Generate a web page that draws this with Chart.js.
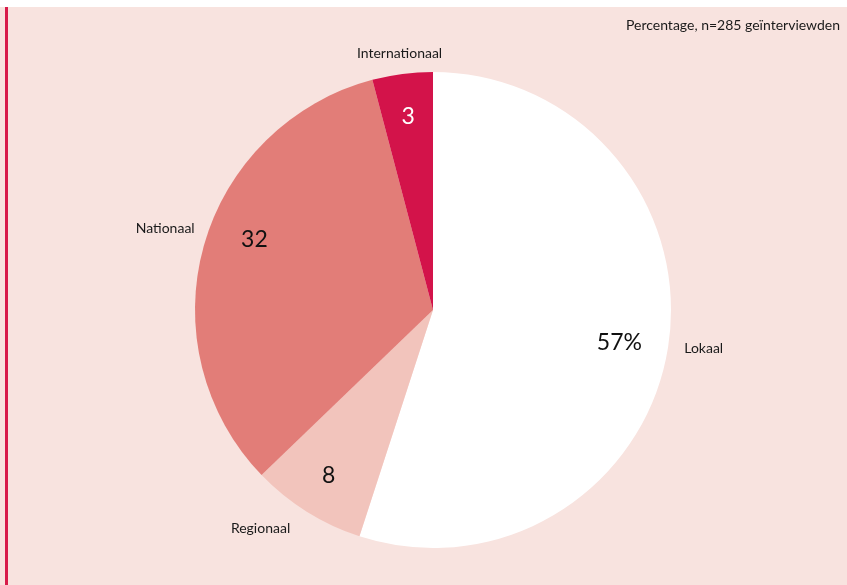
<!DOCTYPE html>
<html>
<head>
<meta charset="utf-8">
<script src="https://cdn.jsdelivr.net/npm/chart.js@4/dist/chart.umd.min.js"></script>
<style>
  html, body { margin: 0; padding: 0; background: #fff; }
  #paneel { position: absolute; left: 0; top: 7px; width: 847px; height: 578px; background: #f8e3df; }
  #balk { position: absolute; left: 5px; top: 0; width: 3px; height: 578px; background: #d81b4a; }
  #bron { position: absolute; right: 7px; top: 9px; font: 14px Lato, "Open Sans", sans-serif; color: #1a1a1a; }
  canvas { position: absolute; left: 0; top: 0; }
</style>
</head>
<body>
<div id="paneel">
  <canvas id="taartChart" width="847" height="578"></canvas>
  <div id="balk"></div>
  <div id="bron">Percentage, n=285 geïnterviewden</div>
</div>
<script>
// Gegevens (segmentgroottes zoals getekend, labels zoals vermeld)
const categorieen = ['Lokaal', 'Regionaal', 'Nationaal', 'Internationaal'];
const percentages = [55, 7.8, 33.1, 4.1];
const waardeLabels = ['57%', '8', '32', '3'];

const kleuren = ['#ffffff', '#f2c4bc', '#e27d78', '#d3134a'];
const tekstKleuren = ['#111111', '#111111', '#111111', '#ffffff'];
// kleine verschuivingen (px) van de labels t.o.v. de hoekbissectrice
const binnenNudge = [[-4, 2], [-2, 2], [7, -18], [0, -2]];
const buitenNudge = [[-2, -5], [-26, -16], [-2, -7], [2, 17]];

// Labels in en naast de taart
const taartLabels = {
  id: 'taartLabels',
  afterDatasetsDraw(chart) {
    const ctx = chart.ctx;
    const meta = chart.getDatasetMeta(0);
    ctx.save();
    ctx.textBaseline = 'middle';
    ctx.textAlign = 'center';
    meta.data.forEach((arc, i) => {
      const p = arc.getProps(['x', 'y', 'startAngle', 'endAngle', 'outerRadius'], true);
      const mid = (p.startAngle + p.endAngle) / 2;
      const ri = p.outerRadius * 0.81;
      ctx.font = '23px Lato, "Open Sans", sans-serif';
      ctx.fillStyle = tekstKleuren[i];
      ctx.fillText(waardeLabels[i],
        p.x + Math.cos(mid) * ri + binnenNudge[i][0],
        p.y + Math.sin(mid) * ri + binnenNudge[i][1]);

      const ro = p.outerRadius * 1.16;
      ctx.font = '14px Lato, "Open Sans", sans-serif';
      ctx.fillStyle = '#1a1a1a';
      ctx.fillText(categorieen[i],
        p.x + Math.cos(mid) * ro + buitenNudge[i][0],
        p.y + Math.sin(mid) * ro + buitenNudge[i][1]);
    });
    ctx.restore();
  }
};

new Chart(document.getElementById('taartChart').getContext('2d'), {
  type: 'pie',
  data: {
    labels: categorieen,
    datasets: [{
      data: percentages,
      backgroundColor: kleuren,
      borderWidth: 0
    }]
  },
  options: {
    responsive: false,
    animation: false,
    layout: { padding: { left: 195, right: 176, top: 65, bottom: 37 } },
    plugins: { legend: { display: false }, tooltip: { enabled: false } }
  },
  plugins: [taartLabels]
});
</script>
</body>
</html>
